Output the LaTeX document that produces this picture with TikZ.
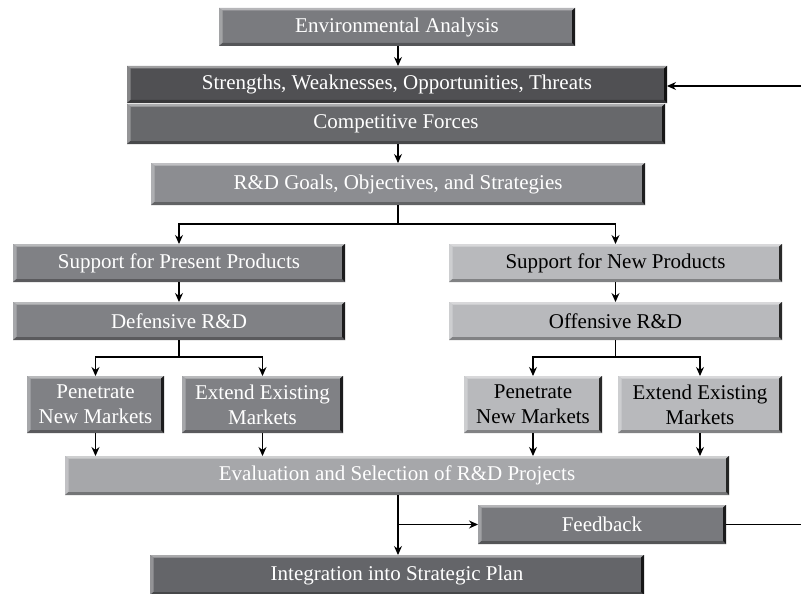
\documentclass[tikz,border=0pt]{standalone}
\usepackage{fontspec}
\setmainfont{Liberation Serif}
\usetikzlibrary{arrows.meta}
\newcommand\boxfont{\fontsize{21}{25}\selectfont}
\definecolor{cEnv}{RGB}{122,123,127}
\definecolor{cSwot}{RGB}{80,80,83}
\definecolor{cComp}{RGB}{103,104,107}
\definecolor{cGoals}{RGB}{140,141,145}
\definecolor{cLeft}{RGB}{128,129,133}
\definecolor{cRight}{RGB}{184,185,188}
\definecolor{cEval}{RGB}{166,167,170}
\definecolor{cFeed}{RGB}{120,121,125}
\definecolor{cInteg}{RGB}{100,101,105}
\tikzset{
  bev/.style={rectangle, inner sep=0pt, outer sep=0pt, fill=#1, draw=none,
    font=\boxfont, align=center, text=white,
    path picture={
      \coordinate (pp-nw) at (path picture bounding box.north west);
      \coordinate (pp-ne) at (path picture bounding box.north east);
      \coordinate (pp-sw) at (path picture bounding box.south west);
      \coordinate (pp-se) at (path picture bounding box.south east);
      \fill[#1!55!white] (pp-nw) -- (pp-ne) -- ([shift={(-3pt,-2.5pt)}]pp-ne) -- ([shift={(3.5pt,-2.5pt)}]pp-nw) -- cycle;
      \fill[#1!70!white] (pp-nw) -- ([shift={(3.5pt,-2.5pt)}]pp-nw) -- ([shift={(3.5pt,3pt)}]pp-sw) -- (pp-sw) -- cycle;
      \fill[#1!70!black] (pp-sw) -- ([shift={(3.5pt,3pt)}]pp-sw) -- ([shift={(-3pt,3pt)}]pp-se) -- (pp-se) -- cycle;
      \fill[#1!22!black] (pp-se) -- ([shift={(-3pt,3pt)}]pp-se) -- ([shift={(-3pt,-2.5pt)}]pp-ne) -- (pp-ne) -- cycle;
    }},
  darktext/.style={text=black},
  arr/.style={draw=black, line width=1.1pt, -{Stealth[length=9pt,width=8pt]}},
  ln/.style={draw=black, line width=1.1pt}
}
\begin{document}
\begin{tikzpicture}[x=1pt,y=-1pt]
\useasboundingbox (0,0) rectangle (801,594);
\fill[white] (0,0) rectangle (801,594);

\node[bev=cEnv, minimum width=356pt, minimum height=38pt] (env) at (397,27) {Environmental Analysis};
\node[bev=cSwot, minimum width=540pt, minimum height=37pt] (swot) at (397,84.5) {Strengths, Weaknesses, Opportunities, Threats};
\node[bev=cComp, minimum width=538pt, minimum height=40pt] (comp) at (396,124) {Competitive Forces};
\node[bev=cGoals, minimum width=494pt, minimum height=42pt] (goals) at (398,184) {R\&D Goals, Objectives, and Strategies};

\node[bev=cLeft, minimum width=332pt, minimum height=38pt] (supp) at (179,263) {Support for Present Products};
\node[bev=cLeft, minimum width=332pt, minimum height=38pt] (def) at (179,321) {Defensive R\&D};
\node[bev=cLeft, minimum width=137pt, minimum height=57pt] (pen1) at (95.5,404.5) {Penetrate\\New Markets};
\node[bev=cLeft, minimum width=161pt, minimum height=57pt] (ext1) at (262.5,404.5) {Extend Existing\\Markets};

\node[bev=cRight, darktext, minimum width=333pt, minimum height=38pt] (supn) at (615.5,263) {Support for New Products};
\node[bev=cRight, darktext, minimum width=333pt, minimum height=38pt] (off) at (615.5,321) {Offensive R\&D};
\node[bev=cRight, darktext, minimum width=138pt, minimum height=57pt] (pen2) at (533,404.5) {Penetrate\\New Markets};
\node[bev=cRight, darktext, minimum width=164pt, minimum height=57pt] (ext2) at (700,404.5) {Extend Existing\\Markets};

\node[bev=cEval, minimum width=664pt, minimum height=39pt] (eval) at (397,475.5) {Evaluation and Selection of R\&D Projects};
\node[bev=cFeed, minimum width=248pt, minimum height=39pt] (feed) at (602,524.5) {Feedback};
\node[bev=cInteg, minimum width=494pt, minimum height=40pt] (integ) at (397,575) {Integration into Strategic Plan};

\coordinate (fbin) at (801,86);
\coordinate (fbout) at (801,524.5);
\coordinate (gsplit) at (398,224);
\coordinate (dsplit) at (179,357);
\coordinate (osplit) at (615.5,357);
\coordinate (esplit) at (398,524.5);

\draw[arr] (env.south -| 398,0) -- (swot.north -| 398,0);
\draw[arr] (comp.south -| 398,0) -- (goals.north -| 398,0);
\draw[ln] (goals.south -| gsplit) -- (gsplit);
\draw[arr] (gsplit) -| (supp.north);
\draw[arr] (gsplit) -| (supn.north);
\draw[arr] (supp) -- (def);
\draw[arr] (supn) -- (off);
\draw[ln] (def.south) -- (dsplit);
\draw[arr] (dsplit) -| (pen1.north);
\draw[arr] (dsplit) -| (ext1.north);
\draw[ln] (off.south) -- (osplit);
\draw[arr] (osplit) -| (pen2.north);
\draw[arr] (osplit) -| (ext2.north);
\draw[arr] (pen1.south) -- (pen1.south |- eval.north);
\draw[arr] (ext1.south) -- (ext1.south |- eval.north);
\draw[arr] (pen2.south) -- (pen2.south |- eval.north);
\draw[arr] (ext2.south) -- (ext2.south |- eval.north);
\draw[arr] (eval.south -| esplit) -- (integ.north -| esplit);
\draw[arr] (esplit) -- (feed.west);
\draw[ln] (feed.east) -- (fbout);
\draw[arr] (fbin) -- (swot.east |- fbin);
\end{tikzpicture}
\end{document}
